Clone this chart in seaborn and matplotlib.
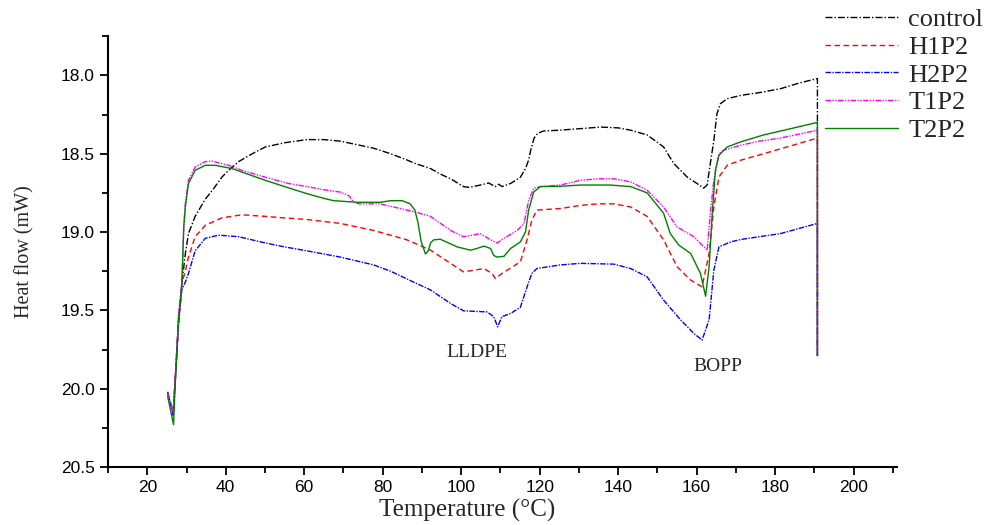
import pandas as pd
import matplotlib
matplotlib.use("Agg")
import matplotlib.pyplot as plt
from matplotlib.ticker import MultipleLocator
import seaborn as sns

# DSC heating curves (temperature in °C, heat flow in mW)
control_x = [25.2, 26.6, 27.1, 28.0, 28.8, 29.7, 30.5, 32.2, 34.8, 37, 39, 41, 43.3, 47.5, 50.1, 55,
             60.7, 65, 69.2, 73, 77.7, 82, 86.2, 88, 92.2, 94.7, 97.3, 100.6, 102, 104.9, 107,
             108.7, 109.6, 110.4, 112.6, 115.1, 116.4, 117.2, 117.8, 118.6, 119.5, 121, 125,
             130.4, 135.5, 140, 143.2, 147.4, 151.6, 154.2, 157.6, 160.1, 161.8, 162.7, 163.5,
             164.4, 165.2, 166.1, 167.8, 171.2, 176, 181.4, 186, 190.8, 190.8]
control_y = [20.03, 20.15, 19.95, 19.55, 19.33, 19.14, 19.01, 18.90, 18.79, 18.72, 18.65, 18.60,
             18.55, 18.49, 18.457, 18.43, 18.41, 18.41, 18.42, 18.44, 18.465, 18.50, 18.54, 18.56,
             18.595, 18.63, 18.66, 18.71, 18.715, 18.70, 18.687, 18.71, 18.695, 18.71, 18.69,
             18.65, 18.595, 18.54, 18.47, 18.40, 18.37, 18.355, 18.35, 18.34, 18.33, 18.335,
             18.35, 18.38, 18.457, 18.563, 18.649, 18.69, 18.72, 18.70, 18.563, 18.415, 18.244,
             18.18, 18.149, 18.128, 18.11, 18.085, 18.05, 18.02, 19.79]

h1p2_x = [25.2, 26.6, 27.1, 28.0, 28.8, 29.7, 30.5, 32.2, 34.8, 39, 44.1, 50.1, 55, 60.7, 69.2,
          77.7, 82, 86.2, 92.2, 97.3, 100.6, 103, 105.8, 107.9, 108.7, 110.4, 112.6, 115.1,
          116.8, 118, 119.3, 125.3, 130.4, 135, 138.9, 143.2, 147.4, 151.6, 155, 158.5, 161.4,
          163.2, 164.4, 165.7, 167.8, 171.2, 177.1, 184, 190.8, 190.8]
h1p2_y = [20.03, 20.15, 19.95, 19.55, 19.33, 19.25, 19.16, 19.03, 18.957, 18.91, 18.89, 18.90,
          18.91, 18.92, 18.945, 18.99, 19.02, 19.05, 19.116, 19.20, 19.254, 19.245, 19.233,
          19.265, 19.297, 19.265, 19.23, 19.19, 19.05, 18.925, 18.86, 18.85, 18.83, 18.82,
          18.82, 18.84, 18.90, 19.05, 19.22, 19.307, 19.35, 19.137, 18.84, 18.649, 18.574,
          18.542, 18.50, 18.45, 18.40, 19.79]

h2p2_x = [25.2, 26.6, 27.1, 28.0, 28.8, 29.7, 30.5, 32.2, 34.8, 38.2, 43.3, 50.1, 55, 60.7, 69.2,
          77.7, 82, 86.2, 92.2, 97.3, 100.6, 106.6, 108.3, 109.3, 110.4, 112.6, 115.1, 116.8,
          118, 119.3, 125.3, 130.4, 138.9, 143.2, 147.4, 151.6, 155.9, 159.3, 161.4, 163.2,
          164.4, 165.7, 168.7, 171.2, 176, 181.4, 190.8, 190.8]
h2p2_y = [20.02, 20.17, 19.97, 19.58, 19.37, 19.32, 19.265, 19.12, 19.04, 19.02, 19.03, 19.07,
          19.095, 19.12, 19.16, 19.21, 19.25, 19.30, 19.37, 19.456, 19.503, 19.51, 19.54,
          19.605, 19.54, 19.52, 19.48, 19.35, 19.265, 19.233, 19.21, 19.20, 19.205, 19.233,
          19.286, 19.435, 19.56, 19.647, 19.69, 19.56, 19.244, 19.095, 19.063, 19.048, 19.03,
          19.01, 18.945, 19.79]

t1p2_x = [25.2, 26.6, 27.1, 28.0, 28.8, 29.3, 29.7, 30.5, 32.2, 34.8, 36.5, 40.7, 44.1, 50.1, 56,
          60.7, 65, 69.2, 71.5, 72.6, 74, 79.4, 86.2, 88, 92.2, 97.3, 100.6, 104.9, 107.5, 109.2,
          110.9, 114.3, 116, 117.2, 118.5, 120.2, 125.3, 130.4, 135, 138.9, 143.2, 147.4, 151.6,
          155, 159.3, 162.7, 163.5, 164.4, 165.7, 166.9, 171.2, 176, 181.4, 190.8, 190.8]
t1p2_y = [20.03, 20.15, 19.95, 19.52, 19.33, 18.97, 18.82, 18.67, 18.585, 18.55, 18.547, 18.574,
          18.606, 18.65, 18.69, 18.71, 18.73, 18.745, 18.77, 18.81, 18.82, 18.82, 18.86, 18.87,
          18.90, 18.99, 19.03, 19.01, 19.05, 19.07, 19.04, 18.99, 18.946, 18.80, 18.72, 18.71,
          18.70, 18.67, 18.66, 18.66, 18.68, 18.733, 18.84, 18.967, 19.03, 19.116, 18.88, 18.67,
          18.50, 18.478, 18.446, 18.42, 18.40, 18.35, 19.79]

t2p2_x = [25.2, 26.7, 27.1, 28.0, 28.8, 29.3, 29.7, 30.5, 32.2, 34.8, 37.3, 41.6, 45, 50.1, 55,
          60.7, 65, 67.5, 73.5, 79.4, 82, 85, 87, 88.2, 89, 89.8, 90.9, 91.6, 92.2, 93, 94.7, 99,
          102.4, 104, 105.8, 107.5, 108.3, 109.2, 110.9, 112.6, 115.1, 116.4, 117.2, 118.5,
          120.2, 125.3, 130.4, 138, 143.2, 147.4, 151.6, 153.3, 155.5, 158.5, 161, 162.3, 163.2,
          164, 164.8, 165.7, 167.8, 171.2, 177.1, 184, 190.8, 190.8]
t2p2_y = [20.05, 20.23, 19.98, 19.55, 19.35, 18.97, 18.84, 18.69, 18.606, 18.574, 18.574, 18.595,
          18.625, 18.67, 18.71, 18.755, 18.785, 18.80, 18.81, 18.81, 18.80, 18.80, 18.82, 18.86,
          18.94, 19.06, 19.14, 19.12, 19.07, 19.05, 19.046, 19.095, 19.116, 19.105, 19.09,
          19.105, 19.15, 19.16, 19.155, 19.105, 19.063, 18.999, 18.86, 18.744, 18.71, 18.708,
          18.70, 18.70, 18.71, 18.75, 18.88, 19.01, 19.084, 19.137, 19.265, 19.41, 19.22, 18.88,
          18.606, 18.51, 18.457, 18.425, 18.38, 18.34, 18.30, 19.79]

series = [
    ("control", control_x, control_y, "black", (5, 1.5, 1, 1.5)),
    ("H1P2", h1p2_x, h1p2_y, "#ff0000", (4, 2.5)),
    ("H2P2", h2p2_x, h2p2_y, "#0000ff", (4, 1, 1, 1)),
    ("T1P2", t1p2_x, t1p2_y, "#ff00ff", (4, 1, 1, 1, 1, 1)),
    ("T2P2", t2p2_x, t2p2_y, "#008000", None),
]

sns.set_style("ticks")
plt.rcParams["font.family"] = ["Liberation Serif", "DejaVu Serif"]

fig = plt.figure(figsize=(10.04, 5.25), dpi=100)
ax = fig.add_axes([0.1076, 0.1105, 0.7855, 0.8205])

for name, xs, ys, color, dash in series:
    df = pd.DataFrame({"T": xs, "HF": ys})
    sns.lineplot(data=df, x="T", y="HF", ax=ax, color=color, linewidth=1.0,
                 estimator=None, sort=False, label=name)
    if dash is not None:
        ax.lines[-1].set_dashes(dash)

ax.set_xlim(10, 211)
ax.set_ylim(20.5, 17.75)
ax.set_xticks([20, 40, 60, 80, 100, 120, 140, 160, 180, 200])
ax.xaxis.set_minor_locator(MultipleLocator(10))
ax.set_yticks([18.0, 18.5, 19.0, 19.5, 20.0, 20.5])
ax.set_yticklabels(["18.0", "18.5", "19.0", "19.5", "20.0", "20.5"])
ax.yaxis.set_minor_locator(MultipleLocator(0.25))

for lab in ax.get_xticklabels() + ax.get_yticklabels():
    lab.set_family(["Liberation Sans", "DejaVu Sans"])
    lab.set_fontsize(12.5)

ax.tick_params(which="major", direction="out", length=6, width=1.3, colors="black")
ax.tick_params(which="minor", direction="out", length=4, width=1.3, colors="black")
for side in ["left", "bottom"]:
    ax.spines[side].set_linewidth(1.5)
    ax.spines[side].set_color("black")
sns.despine(ax=ax)

ax.set_xlabel("Temperature (°C)", fontsize=18)
ax.xaxis.set_label_coords(0.455, -0.075)
ax.set_ylabel("Heat flow (mW)", fontsize=14.5)
ax.yaxis.set_label_coords(-0.093, 0.5)

ax.text(104, 19.77, "LLDPE", fontsize=14, ha="center", va="center")
ax.text(165.3, 19.86, "BOPP", fontsize=14, ha="center", va="center")

ax.get_legend().remove()
handles, labels = ax.get_legend_handles_labels()
fig.legend(handles, labels, loc="upper left", bbox_to_anchor=(0.822, 0.985), frameon=False,
           fontsize=19, handlelength=2.75, labelspacing=0.16, handletextpad=0.4,
           borderpad=0, borderaxespad=0)

plt.savefig("out.png", dpi=100)
plt.close()
